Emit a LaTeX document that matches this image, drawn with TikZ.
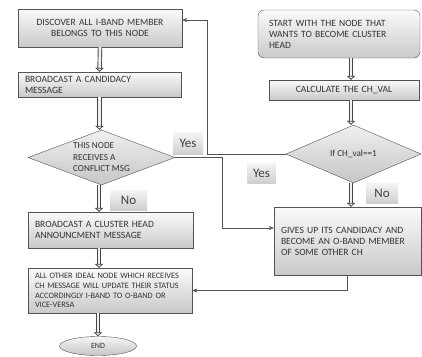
\documentclass[tikz,border=0pt]{standalone}
\usepackage{fontspec}
\setmainfont{Carlito}
\usetikzlibrary{shapes.geometric,arrows.meta}
\tikzset{
  box/.style={draw=gray!65!black, top color=gray!4, bottom color=gray!42, text=black!80,
    inner xsep=7pt, inner ysep=1pt, font=\fontsize{9.6}{11}\selectfont},
  dec/.style={diamond, draw=gray!65!black, top color=gray!12, bottom color=gray!45, text=black!80,
    inner sep=0pt, aspect=2.6, font=\fontsize{9.2}{11.5}\selectfont},
  tag/.style={top color=gray!8, bottom color=gray!38, text=black!75, inner sep=0pt,
    font=\fontsize{13}{13}\selectfont},
  flow/.style={draw=gray!55!black, line width=0.9pt, double=gray!10, double distance=2.6pt,
    -{Triangle[open,fill=gray!10,length=4pt,width=8.5pt,line width=0.8pt]}},
  link/.style={draw=gray!65!black, -{Stealth[length=5pt,width=4pt]}},
}
\begin{document}
\begin{tikzpicture}[x=1pt,y=-1pt]
\useasboundingbox (0,0) rectangle (422,356);
%Cot trai
\node[box, text width=150pt, minimum height=38pt, align=center] (discover) at (100,28)
  {DISCOVER ALL I-BAND MEMBER\\BELONGS TO THIS NODE};
\node[box, text width=149pt, minimum height=25pt, align=left] (candidacy) at (99.5,84.5)
  {BROADCAST A CANDIDACY\\MESSAGE};
\node[dec, minimum width=147pt, minimum height=55pt, align=left] (conflict) at (101.5,157.5)
  {THIS NODE\\RECEIVES A\\CONFLICT MSG};
\node[box, text width=151pt, minimum height=36pt, align=left] (announce) at (110.5,230)
  {BROADCAST A CLUSTER HEAD\\ANNOUNCMENT MESSAGE};
\node[box, text width=150pt, minimum height=45pt, align=left, font=\fontsize{8.3}{9.7}\selectfont] (update) at (110,290.5)
  {ALL OTHER IDEAL NODE WHICH RECEIVES\\CH MESSAGE WILL UPDATE THEIR STATUS\\ACCORDINGLY I-BAND TO O-BAND OR\\VICE-VERSA};
\node[ellipse, draw=gray!65!black, top color=gray!8, bottom color=gray!45, text=black!80, inner sep=0pt,
  minimum width=77pt, minimum height=19pt, font=\fontsize{8}{8}\selectfont] (finish) at (98,346) {END};
%Cot phai
\node[box, rounded corners=6pt, inner xsep=11pt, text width=140pt, minimum height=48pt, align=left] (start) at (339,34)
  {START WITH THE NODE THAT\\WANTS TO BECOME CLUSTER\\HEAD};
\node[box, text width=136pt, minimum height=20pt, align=center] (calc) at (344,90) {CALCULATE THE CH\_VAL};
\node[dec, minimum width=135pt, minimum height=58pt] (chval) at (353.5,154) {If CH\_val==1};
\node[box, text width=133pt, minimum height=68pt, align=left] (giveup) at (347.5,241)
  {GIVES UP ITS CANDIDACY AND\\BECOME AN O-BAND MEMBER\\OF SOME OTHER CH};
%Nhan
\node[tag, minimum width=30pt, minimum height=22pt] (yesa) at (188,143.5) {Yes};
\node[tag, minimum width=28pt, minimum height=20pt] (yesb) at (261.5,173) {Yes};
\node[tag, minimum width=37pt, minimum height=20pt] (noa) at (128.5,200) {No};
\node[tag, minimum width=32pt, minimum height=20pt] (nob) at (382,193) {No};
%Mui ten doc
\draw[flow] (discover.south) -- (candidacy.north);
\draw[flow] (candidacy.south) -- (conflict.north -| candidacy.south);
\draw[flow] (conflict.south -| 99,0) -- (announce.north -| 99,0);
\draw[flow] (announce.south -| 99,0) -- (update.north -| 99,0);
\draw[flow] (update.south -| 98,0) -- (finish.north);
\draw[flow] (start.south -| 351,0) -- (calc.north -| 351,0);
\draw[flow] (calc.south -| 351,0) -- (chval.north -| 351,0);
\draw[flow] (chval.south -| 351,0) -- (giveup.north -| 351,0);
%Duong noi
\draw[link] (conflict.east) -- ++(47,0) |- ([yshift=13pt]giveup.west);
\draw[link] (chval.west) -- ++(-79,0) |- ([yshift=8pt]discover.east);
\draw[link] (giveup.south) |- (update.east);
\end{tikzpicture}
\end{document}
